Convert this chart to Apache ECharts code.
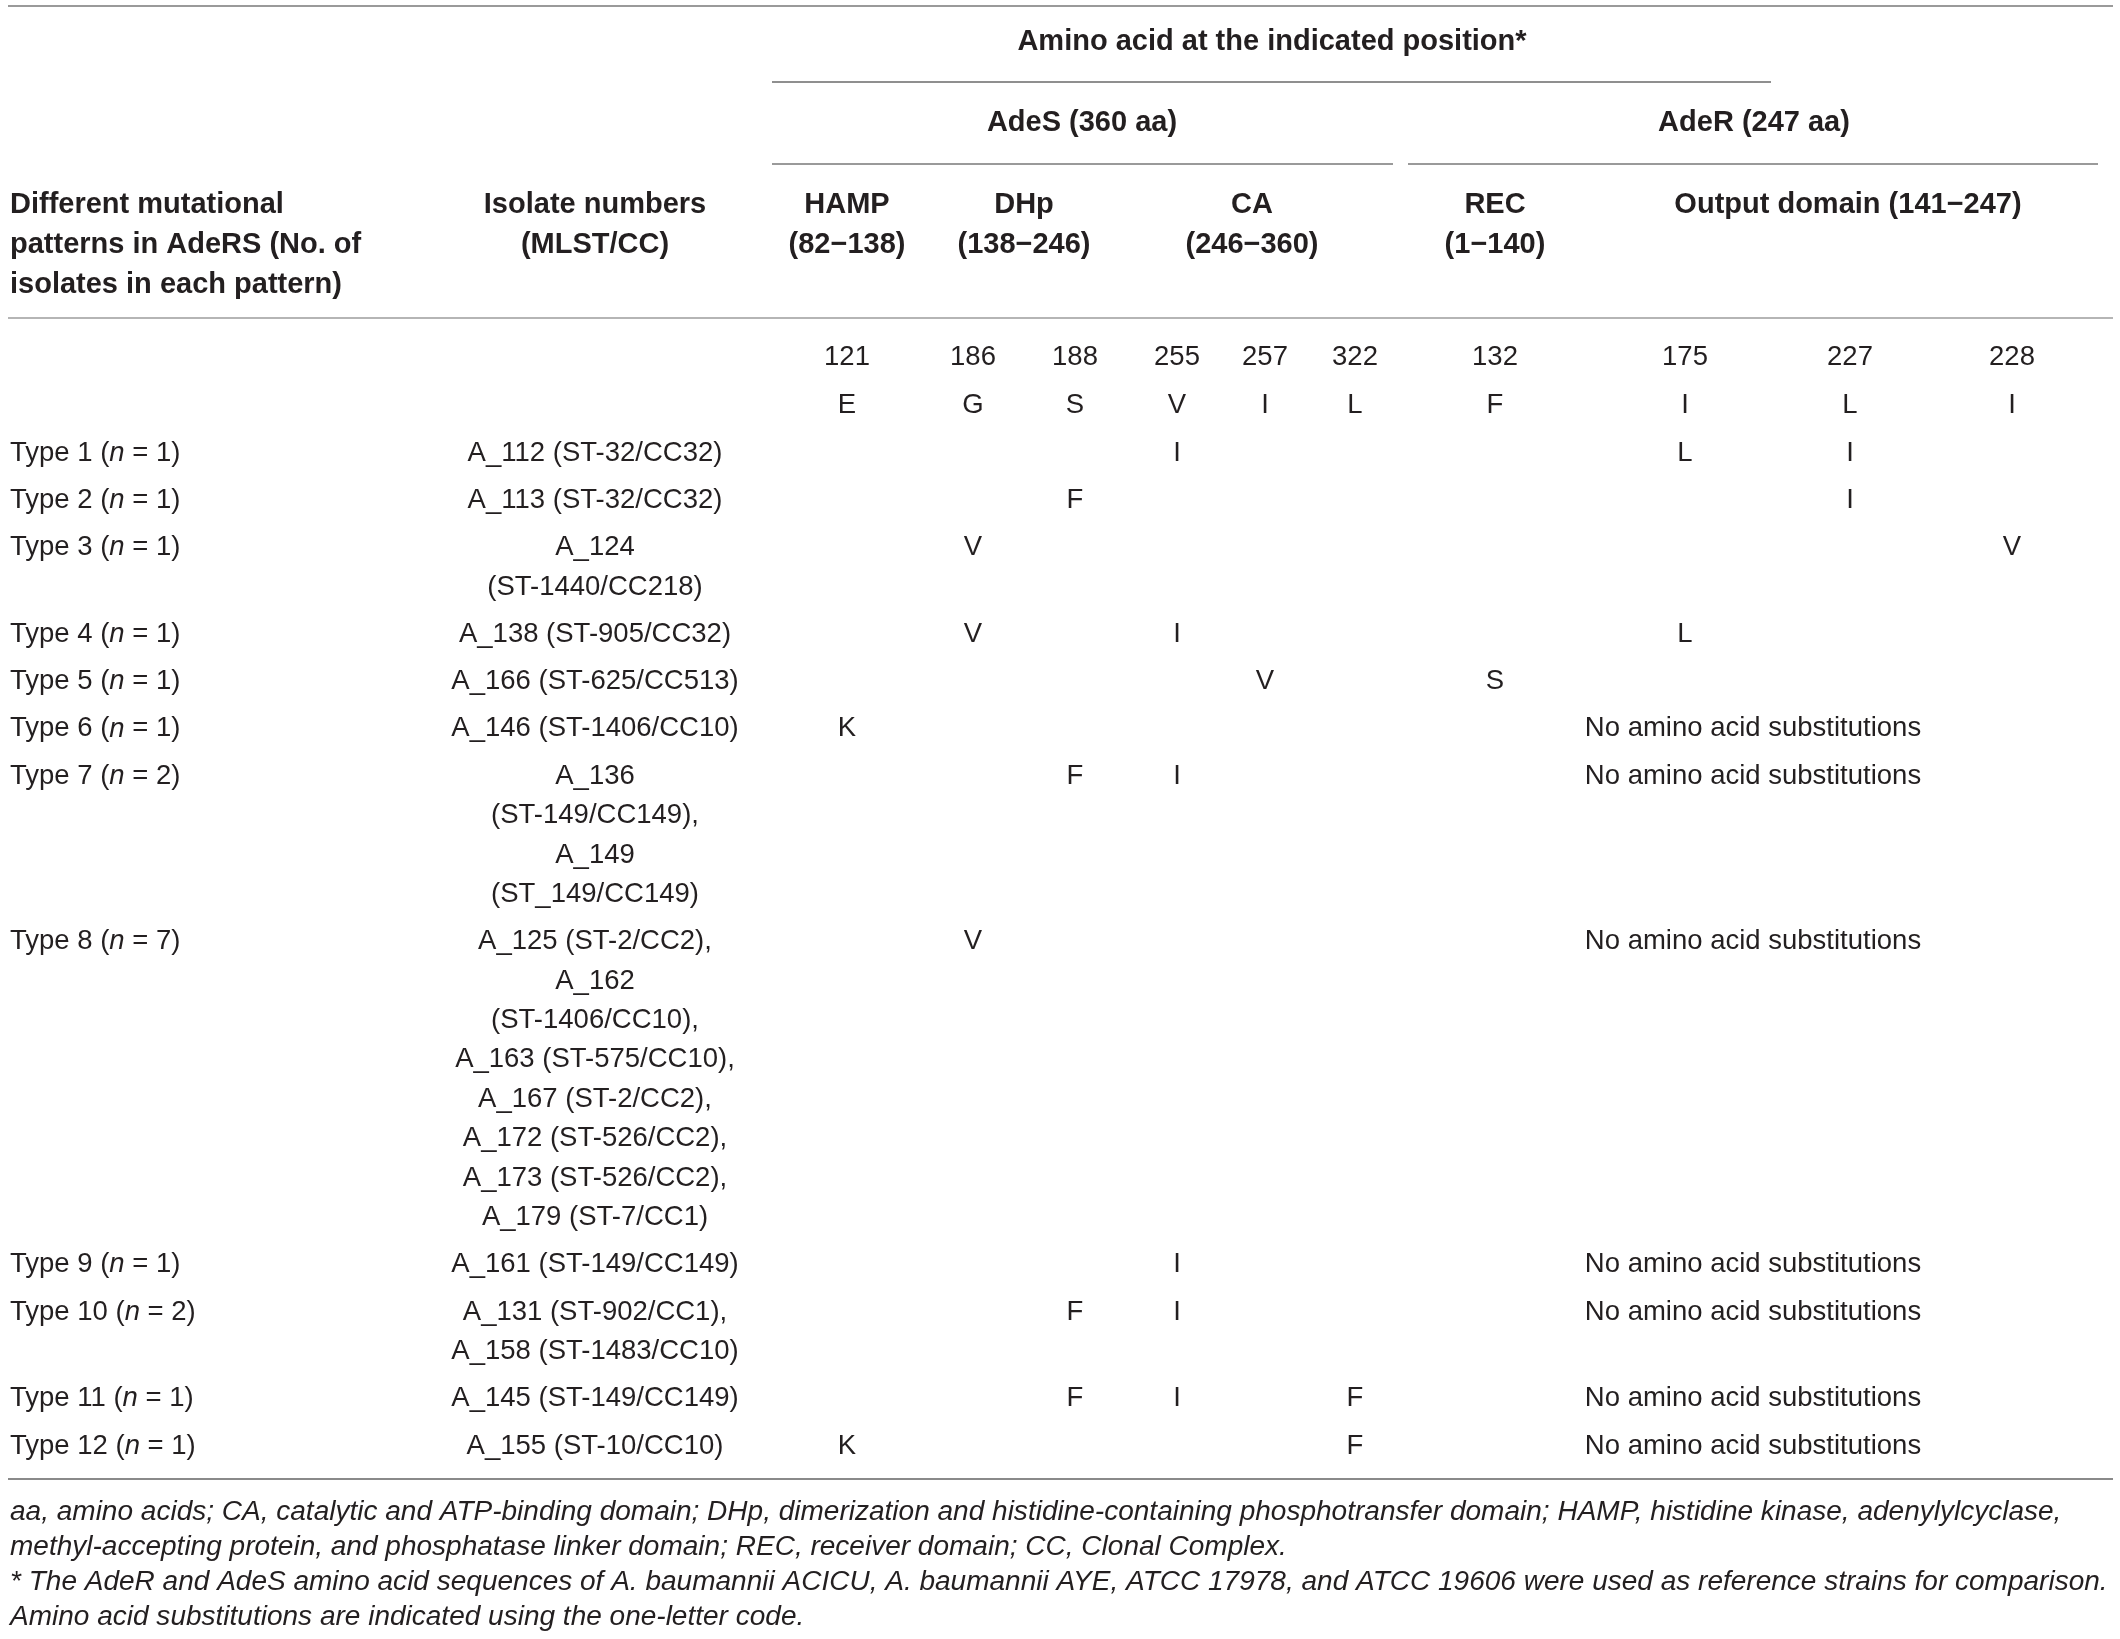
<!DOCTYPE html>
<html>
<head>
<meta charset="utf-8">
<script src="https://cdn.jsdelivr.net/npm/echarts@6/dist/echarts.min.js"></script>
<style>
html,body{margin:0;padding:0;background:#ffffff;}
#chart{width:2120px;height:1639px;}
</style>
</head>
<body>
<div id="chart"></div>
<script>
// ================= DATA =================
const patternTypes = ['Type 1','Type 2','Type 3','Type 4','Type 5','Type 6','Type 7','Type 8','Type 9','Type 10','Type 11','Type 12'];
const isolateCounts = [1,1,1,1,1,1,2,7,1,2,1,1];
const isolateLines = [
  ['A_112 (ST-32/CC32)'],
  ['A_113 (ST-32/CC32)'],
  ['A_124','(ST-1440/CC218)'],
  ['A_138 (ST-905/CC32)'],
  ['A_166 (ST-625/CC513)'],
  ['A_146 (ST-1406/CC10)'],
  ['A_136','(ST-149/CC149),','A_149','(ST_149/CC149)'],
  ['A_125 (ST-2/CC2),','A_162','(ST-1406/CC10),','A_163 (ST-575/CC10),','A_167 (ST-2/CC2),','A_172 (ST-526/CC2),','A_173 (ST-526/CC2),','A_179 (ST-7/CC1)'],
  ['A_161 (ST-149/CC149)'],
  ['A_131 (ST-902/CC1),','A_158 (ST-1483/CC10)'],
  ['A_145 (ST-149/CC149)'],
  ['A_155 (ST-10/CC10)']
];
const positionNumbers = ['121','186','188','255','257','322','132','175','227','228'];
const referenceResidues = ['E','G','S','V','I','L','F','I','L','I'];
// substitutions per pattern type, one entry per position above
const substitutions = [
  ['',  '',  '',  'I', '',  '',  '',  'L', 'I', '' ],
  ['',  '',  'F', '',  '',  '',  '',  '',  'I', '' ],
  ['',  'V', '',  '',  '',  '',  '',  '',  '',  'V'],
  ['',  'V', '',  'I', '',  '',  '',  'L', '',  '' ],
  ['',  '',  '',  '',  'V', '',  'S', '',  '',  '' ],
  ['K', '',  '',  '',  '',  '',  '',  '',  '',  '' ],
  ['',  '',  'F', 'I', '',  '',  '',  '',  '',  '' ],
  ['',  'V', '',  '',  '',  '',  '',  '',  '',  '' ],
  ['',  '',  '',  'I', '',  '',  '',  '',  '',  '' ],
  ['',  '',  'F', 'I', '',  '',  '',  '',  '',  '' ],
  ['',  '',  'F', 'I', '',  'F', '',  '',  '',  '' ],
  ['K', '',  '',  '',  '',  'F', '',  '',  '',  '' ]
];
const noAdeRSubstitution = [false,false,false,false,false,true,true,true,true,true,true,true];
const noSubText = 'No amino acid substitutions';
const headerTypeLines = ['Different mutational','patterns in AdeRS (No. of','isolates in each pattern)'];
const headerIsolateLines = ['Isolate numbers','(MLST/CC)'];
const spanHeader = 'Amino acid at the indicated position*';
const proteins = ['AdeS (360 aa)','AdeR (247 aa)'];
const domains = ['HAMP','DHp','CA','REC','Output domain (141\u2212247)'];
const domainRanges = ['(82\u2212138)','(138\u2212246)','(246\u2212360)','(1\u2212140)',''];
const footnotes = [
  'aa, amino acids; CA, catalytic and ATP-binding domain; DHp, dimerization and histidine-containing phosphotransfer domain; HAMP, histidine kinase, adenylylcyclase,',
  'methyl-accepting protein, and phosphatase linker domain; REC, receiver domain; CC, Clonal Complex.',
  '* The AdeR and AdeS amino acid sequences of A. baumannii ACICU, A. baumannii AYE, ATCC 17978, and ATCC 19606 were used as reference strains for comparison.',
  'Amino acid substitutions are indicated using the one-letter code.'
];

// ================= LAYOUT / STYLE =================
const W = 2120, H = 1639;
const FONT = "'Liberation Sans', Arial, Helvetica, sans-serif";
const TEXT_COLOR = '#231f20';
const BODY_SIZE = 27.5, HEAD_SIZE = 29;
const L = {
  left: 10, tableL: 8, tableR: 2113,
  isoX: 595,
  colX: [847, 973, 1075, 1177, 1265, 1355, 1495, 1685, 1850, 2012],
  noSubX: 1753,
  spanX: 1272, spanRule: [772, 1771],
  proteinX: [1082, 1754], proteinRules: [[772, 1393], [1408, 2098]],
  domainX: [847, 1024, 1252, 1495, 1848],
  yTopRule: 6, ySpan: 42, ySpanRule: 82, yProtein: 123, yProteinRule: 164,
  yHead: [205, 245, 285], yHeadRule: 318,
  yPos: 357, yRef: 405,
  yBody0: 453, rowGap: 47.3, lineGap: 39.4,
  yBottomRule: 1479,
  yFoot: [1512, 1547, 1582, 1617]
};

// footnote font size fitted to the table width
const mctx = document.createElement('canvas').getContext('2d');
function measure(t, size) { mctx.font = 'italic ' + size + 'px ' + FONT; return mctx.measureText(t).width; }
const footTarget = 2098;
const FOOT_SIZE = Math.min(footTarget / measure(footnotes[0], 100) * 100, footTarget / measure(footnotes[2], 100) * 100);

// ================= BUILD TEXT ITEMS =================
const texts = [];
function addText(x, y, text, opt) {
  texts.push(Object.assign({ x: x, y: y, text: text, align: 'center', weight: 'normal', style: 'normal', size: BODY_SIZE }, opt || {}));
}
// header
addText(L.spanX, L.ySpan, spanHeader, { weight: 'bold', size: HEAD_SIZE });
proteins.forEach((p, i) => addText(L.proteinX[i], L.yProtein, p, { weight: 'bold', size: HEAD_SIZE }));
headerTypeLines.forEach((t, i) => addText(L.left, L.yHead[i], t, { align: 'left', weight: 'bold', size: HEAD_SIZE }));
headerIsolateLines.forEach((t, i) => addText(L.isoX, L.yHead[i], t, { weight: 'bold', size: HEAD_SIZE }));
domains.forEach((d, i) => {
  addText(L.domainX[i], L.yHead[0], d, { weight: 'bold', size: HEAD_SIZE });
  if (domainRanges[i]) addText(L.domainX[i], L.yHead[1], domainRanges[i], { weight: 'bold', size: HEAD_SIZE });
});
positionNumbers.forEach((p, i) => addText(L.colX[i], L.yPos, p));
referenceResidues.forEach((r, i) => addText(L.colX[i], L.yRef, r));

// body rows
let y = L.yBody0;
patternTypes.forEach((t, r) => {
  addText(L.left, y, t + ' ({i|n} = ' + isolateCounts[r] + ')', { align: 'left', rich: true });
  isolateLines[r].forEach((line, k) => addText(L.isoX, y + k * L.lineGap, line));
  substitutions[r].forEach((s, c) => { if (s) addText(L.colX[c], y, s); });
  if (noAdeRSubstitution[r]) addText(L.noSubX, y, noSubText);
  y += (isolateLines[r].length - 1) * L.lineGap + L.rowGap;
});
// footnotes
footnotes.forEach((f, i) => addText(L.left, L.yFoot[i], f, { align: 'left', style: 'italic', size: FOOT_SIZE }));

// rules: [x1, y, x2, colour]
const rules = [
  [L.tableL, L.yTopRule, L.tableR, '#9a9a9a'],
  [L.spanRule[0], L.ySpanRule, L.spanRule[1], '#8f8f8f'],
  [L.proteinRules[0][0], L.yProteinRule, L.proteinRules[0][1], '#9a9a9a'],
  [L.proteinRules[1][0], L.yProteinRule, L.proteinRules[1][1], '#9a9a9a'],
  [L.tableL, L.yHeadRule, L.tableR, '#b5b5b5'],
  [L.tableL, L.yBottomRule, L.tableR, '#8a8a8a']
];

// ================= CHART =================
const chart = echarts.init(document.getElementById('chart'), null, { renderer: 'canvas', width: W, height: H });
const hiddenAxis = { show: false, splitLine: { show: false }, axisLine: { show: false }, axisTick: { show: false }, axisLabel: { show: false } };
chart.setOption({
  animation: false,
  backgroundColor: '#ffffff',
  grid: { left: 0, right: 0, top: 0, bottom: 0, containLabel: false },
  xAxis: Object.assign({ type: 'value', min: 0, max: W }, hiddenAxis),
  yAxis: Object.assign({ type: 'value', min: 0, max: H, inverse: true }, hiddenAxis),
  series: [
    {
      type: 'custom',
      silent: true,
      clip: false,
      data: rules.map(r => [r[0], r[1], r[2]]),
      encode: { x: [0, 2], y: 1 },
      renderItem: function (params, api) {
        const p1 = api.coord([api.value(0), api.value(1)]);
        const p2 = api.coord([api.value(2), api.value(1)]);
        return {
          type: 'line',
          shape: { x1: p1[0], y1: p1[1], x2: p2[0], y2: p2[1] },
          style: { stroke: rules[params.dataIndex][3], lineWidth: 2 }
        };
      }
    },
    {
      type: 'custom',
      silent: true,
      clip: false,
      data: texts.map(t => [t.x, t.y]),
      encode: { x: 0, y: 1 },
      renderItem: function (params, api) {
        const t = texts[params.dataIndex];
        const p = api.coord([api.value(0), api.value(1)]);
        const style = {
          text: t.text,
          fill: TEXT_COLOR,
          fontFamily: FONT,
          fontSize: t.size,
          fontWeight: t.weight,
          fontStyle: t.style,
          align: t.align, textAlign: t.align,
          verticalAlign: 'middle', textVerticalAlign: 'middle'
        };
        if (t.rich) {
          style.rich = { i: { fontStyle: 'italic', fontFamily: FONT, fontSize: t.size, fill: TEXT_COLOR } };
        }
        return { type: 'text', x: p[0], y: p[1], style: style };
      }
    }
  ]
});
</script>
</body>
</html>
